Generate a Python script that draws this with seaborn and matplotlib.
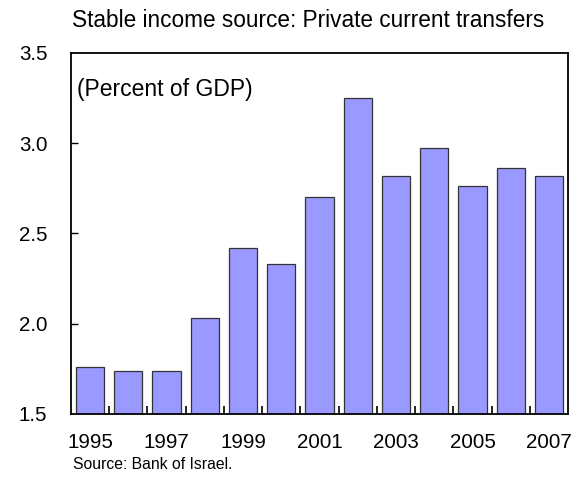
import matplotlib
matplotlib.use("Agg")
import matplotlib.pyplot as plt
import seaborn as sns
import pandas as pd
from matplotlib.ticker import FixedLocator

years = ["1995", "1996", "1997", "1998", "1999", "2000", "2001",
         "2002", "2003", "2004", "2005", "2006", "2007"]
values = [1.76, 1.74, 1.74, 2.03, 2.42, 2.33, 2.70, 3.25, 2.82, 2.97, 2.76, 2.86, 2.82]
yticks = [1.5, 2.0, 2.5, 3.0, 3.5]

sns.set_theme(style="white")
plt.rcParams["font.family"] = ["Liberation Sans", "DejaVu Sans"]

df = pd.DataFrame({"year": years, "value": values})

fig = plt.figure(figsize=(5.81, 4.98), dpi=100)
ax = fig.add_axes([0.122, 0.169, 0.856, 0.725])

sns.barplot(data=df, x="year", y="value", color="#9999FF", saturation=1,
            edgecolor="#333333", linewidth=0.9, width=0.74, ax=ax)

ax.set_ylim(1.5, 3.5)
ax.set_xlim(-0.5, len(years) - 0.5)
ax.set_xlabel("")
ax.set_ylabel("")

ax.set_yticks(yticks)
ax.set_yticklabels([f"{v:.1f}" for v in yticks], fontsize=14.8, color="black")
ax.tick_params(axis="y", direction="in", length=5, width=1, color="black", pad=17, left=True)
ax.yaxis.get_major_ticks()[0].tick1line.set_visible(False)
ax.yaxis.get_major_ticks()[-1].tick1line.set_visible(False)

ax.set_xticks(range(len(years)))
ax.set_xticklabels([y if i % 2 == 0 else "" for i, y in enumerate(years)],
                   fontsize=14.8, color="black")
ax.tick_params(axis="x", which="major", length=0, pad=14)
ax.xaxis.set_minor_locator(FixedLocator([i + 0.5 for i in range(len(years) - 1)]))
ax.tick_params(axis="x", which="minor", direction="in", length=6, width=1.2,
               color="black", bottom=True)

for s in ax.spines.values():
    s.set_color("black")
    s.set_linewidth(1.3)
    s.set_visible(True)

ax.text(0.012, 0.93, "(Percent of GDP)", transform=ax.transAxes,
        fontsize=16.5, va="top", ha="left", color="black")

fig.text(0.53, 0.958, "Stable income source: Private current transfers",
         fontsize=16.3, ha="center", va="center", color="black")
fig.text(0.126, 0.068, "Source: Bank of Israel.", fontsize=11.3,
         ha="left", va="center", color="black")

fig.savefig("out.png", dpi=100)
